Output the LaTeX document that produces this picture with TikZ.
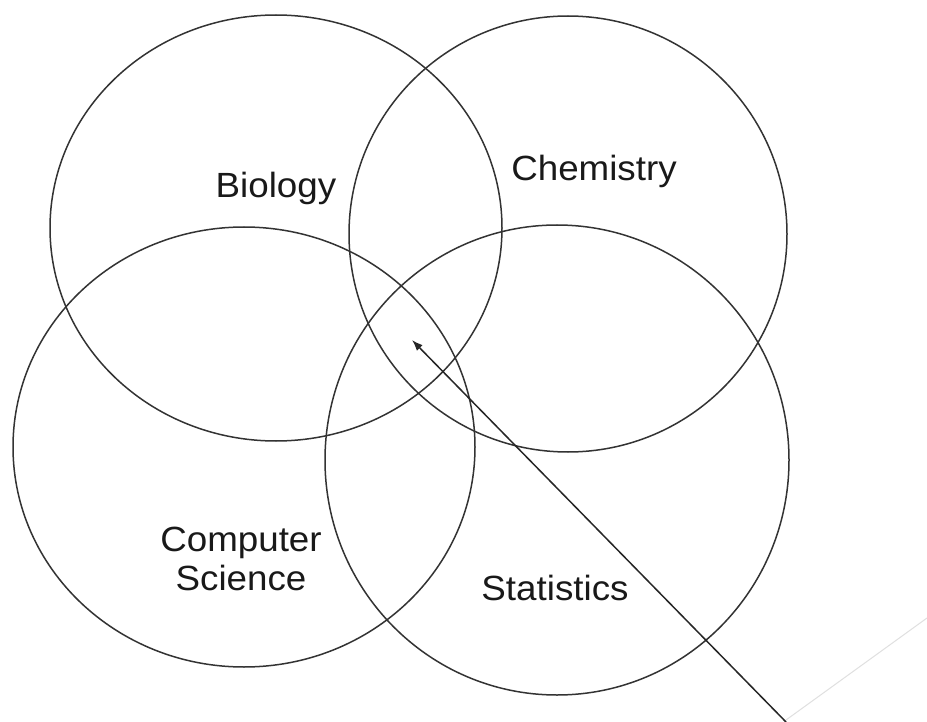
\documentclass[tikz,border=0pt]{standalone}
\usepackage{fontspec}
\setmainfont{Liberation Sans}
\usetikzlibrary{arrows.meta}
\begin{document}
\begin{tikzpicture}[x=1pt,y=-1pt,
  venn/.style={draw=black!80,line width=1.5pt},
  lbl/.style={font=\fontsize{35}{39}\selectfont,text=black!90,align=center,inner sep=0pt,xscale=1.05},
  pointer/.style={draw=black!85,line width=1.5pt,-{Latex[length=11pt,width=8pt]}}]
\useasboundingbox (0,0) rectangle (927,722);
\fill[white] (0,0) rectangle (927,722);
\draw[venn] (276,228) ellipse [x radius=226,y radius=213];
\draw[venn] (568,234) ellipse [x radius=219,y radius=218];
\draw[venn] (244,447) ellipse [x radius=231,y radius=220];
\draw[venn] (557,460) ellipse [x radius=232,y radius=235];
\node[lbl,anchor=base] (bio) at (276,198) {Biology};
\node[lbl,anchor=base] (chem) at (594,181) {Chemistry};
\node[lbl] (cs) at (241,559) {Computer\\Science};
\node[lbl,anchor=base] (stat) at (555,600) {Statistics};
\coordinate (tip) at (412,340);
\coordinate (tail) at (786,722);
\coordinate (c1) at (786,720);
\coordinate (c2) at (927,618);
\draw[pointer] (tail) -- (tip);
\draw[black!12,line width=1pt] (c1) -- (c2);
\end{tikzpicture}
\end{document}
